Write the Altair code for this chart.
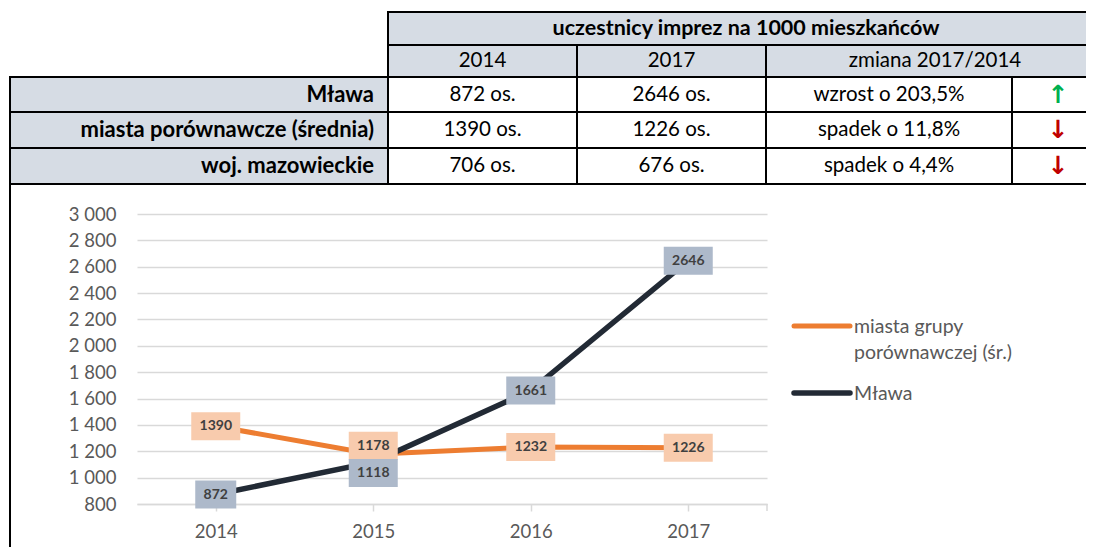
import altair as alt
import pandas as pd

# ---------------- data ----------------
years = [2014, 2015, 2016, 2017]
series_names = ["miasta grupy porównawczej (śr.)", "Mława"]
vals_miasta = [1390, 1178, 1232, 1226]
vals_mlawa = [872, 1118, 1661, 2646]

table_title = "uczestnicy imprez na 1000 mieszkańców"
table_cols = ["2014", "2017", "zmiana 2017/2014"]
row_labels = ["Mława", "miasta porównawcze (średnia)", "woj. mazowieckie"]
row_2014 = [872, 1390, 706]
row_2017 = [2646, 1226, 676]
row_change = ["wzrost o 203,5%", "spadek o 11,8%", "spadek o 4,4%"]
row_dir = ["up", "down", "down"]

y_ticks = list(range(800, 3001, 200))
legend_lines = [["miasta grupy", "porównawczej (śr.)"], ["Mława"]]

# ---------------- layout / style ----------------
W, H = 630, 290
PAD = {"left": 129, "top": 206, "right": 319, "bottom": 43}
FONT = "Lato"
GREY_FILL = "#D6DCE4"
ORANGE, DARK = "#ED7D31", "#222A35"
ORANGE_BOX, DARK_BOX = "#F8CBAD", "#ADB9CA"
AXIS_TXT = "#595959"
GRID = "#D9D9D9"

col_edges = [0, 378, 567, 756, 1002, 1094]
row_edges = [0, 33, 65, 100, 136, 172]
TX = alt.Scale(domain=[0, 1076], range=[-127, 949], nice=False, zero=False)
TY = alt.Scale(domain=[0, 172], range=[-202, -30], nice=False, zero=False)

# ---------------- table ----------------
cells = []
cells.append(dict(x=col_edges[1], x2=col_edges[5], y=row_edges[0], y2=row_edges[1], fill=GREY_FILL))
cells.append(dict(x=col_edges[1], x2=col_edges[2], y=row_edges[1], y2=row_edges[2], fill=GREY_FILL))
cells.append(dict(x=col_edges[2], x2=col_edges[3], y=row_edges[1], y2=row_edges[2], fill=GREY_FILL))
cells.append(dict(x=col_edges[3], x2=col_edges[5], y=row_edges[1], y2=row_edges[2], fill=GREY_FILL))
for i in range(len(row_labels)):
    y0, y1 = row_edges[i + 2], row_edges[i + 3]
    cells.append(dict(x=col_edges[0], x2=col_edges[1], y=y0, y2=y1, fill=GREY_FILL))
    for c in range(1, 5):
        cells.append(dict(x=col_edges[c], x2=col_edges[c + 1], y=y0, y2=y1, fill="white"))
cells_df = pd.DataFrame(cells)

def cx(a, b):
    return (col_edges[a] + col_edges[b]) / 2

def cy(r):
    return (row_edges[r] + row_edges[r + 1]) / 2

bold_center = pd.DataFrame([dict(x=cx(1, 5), y=cy(0), t=table_title)])
reg_center = [dict(x=cx(1, 2), y=cy(1), t=table_cols[0]),
              dict(x=cx(2, 3), y=cy(1), t=table_cols[1]),
              dict(x=cx(3, 5), y=cy(1), t=table_cols[2])]
bold_right = []
arrows = []
for i in range(len(row_labels)):
    r = i + 2
    bold_right.append(dict(x=col_edges[1] - 14, y=cy(r), t=row_labels[i]))
    reg_center.append(dict(x=cx(1, 2), y=cy(r), t=f"{row_2014[i]} os."))
    reg_center.append(dict(x=cx(2, 3), y=cy(r), t=f"{row_2017[i]} os."))
    reg_center.append(dict(x=cx(3, 4), y=cy(r), t=row_change[i]))
    up = row_dir[i] == "up"
    arrows.append(dict(x=cx(4, 5), y=cy(r), t="↑" if up else "↓",
                       c="#00B050" if up else "#C00000"))
reg_center = pd.DataFrame(reg_center)
bold_right = pd.DataFrame(bold_right)
arrows = pd.DataFrame(arrows)
frame_df = pd.DataFrame([dict(x=0, y=row_edges[5], y2=535)])

tx = alt.X("x:Q", scale=TX, axis=None)
ty = alt.Y("y:Q", scale=TY, axis=None)

t_cells = alt.Chart(cells_df).mark_rect(stroke="black", strokeWidth=2).encode(
    x=tx, x2="x2:Q", y=ty, y2="y2:Q", fill=alt.Fill("fill:N", scale=None))
t_frame = alt.Chart(frame_df).mark_rule(color="black", strokeWidth=2).encode(
    x=tx, y=ty, y2="y2:Q")
t_title = alt.Chart(bold_center).mark_text(font=FONT, fontSize=21.5, fontWeight="bold",
                                           color="black", baseline="middle").encode(x=tx, y=ty, text="t:N")
t_reg = alt.Chart(reg_center).mark_text(font=FONT, fontSize=20.5, color="black",
                                        baseline="middle").encode(x=tx, y=ty, text="t:N")
t_lab = alt.Chart(bold_right).mark_text(font=FONT, fontSize=22, fontWeight="bold", color="black",
                                        align="right", baseline="middle").encode(x=tx, y=ty, text="t:N")
t_arr = alt.Chart(arrows).mark_text(font="DejaVu Sans", fontSize=25, fontWeight="bold",
                                    baseline="middle").encode(
    x=tx, y=ty, text="t:N", color=alt.Color("c:N", scale=None))

table = alt.layer(t_frame, t_cells, t_title, t_reg, t_lab, t_arr)

# ---------------- line chart ----------------
rows = []
for yr, a, b in zip(years, vals_miasta, vals_mlawa):
    rows.append(dict(year=yr, value=a, series=series_names[0]))
    rows.append(dict(year=yr, value=b, series=series_names[1]))
line_df = pd.DataFrame(rows)

X = alt.X("year:O", sort=years, scale=alt.Scale(type="point", padding=0.5),
          axis=alt.Axis(title=None, labelAngle=0, domain=True, domainColor=GRID, domainWidth=1.5,
                        ticks=True, tickColor=GRID, tickWidth=1.5, tickSize=7, labelPadding=11,
                        labelFont=FONT, labelFontSize=18.5, labelColor=AXIS_TXT, grid=False))
Y = alt.Y("value:Q", scale=alt.Scale(domain=[800, 3000], nice=False, zero=False),
          axis=alt.Axis(title=None, values=y_ticks,
                        labelExpr="replace(format(datum.value, ','), ',', ' ')",
                        grid=True, gridColor=GRID, gridWidth=1.5, domain=False, ticks=False,
                        tickSize=0, labelPadding=21, labelFont=FONT, labelFontSize=18.5,
                        labelColor=AXIS_TXT))

base = alt.Chart(line_df)
WIDE = "M-1,-0.5714L1,-0.5714L1,0.5714L-1,0.5714Z"
NARROW = "M-0.8367,-0.5714L0.8367,-0.5714L0.8367,0.5714L-0.8367,0.5714Z"

layers = []
for name, col, w in [(series_names[0], ORANGE, 5), (series_names[1], DARK, 5.5)]:
    layers.append(base.transform_filter(alt.datum.series == name)
                  .mark_line(color=col, strokeWidth=w).encode(x=X, y=Y))

end_tick = alt.Chart(pd.DataFrame([{"k": 1}])).mark_rule(color=GRID, strokeWidth=1.5).encode(
    x=alt.value(W), y=alt.value(H), y2=alt.value(H + 7))
layers.append(end_tick)

for name, fill, shift in [(series_names[0], ORANGE_BOX, -8.5), (series_names[1], DARK_BOX, 11)]:
    src = base.transform_filter(alt.datum.series == name)
    for test, off in [("datum.year != 2015", 0), ("datum.year == 2015", shift)]:
        s = src.transform_filter(test)
        layers.append(s.mark_point(filled=True, size=2401, opacity=1, strokeWidth=0,
                                   color=fill, yOffset=off).encode(
            x=X, y=Y, shape=alt.condition("datum.value < 1000", alt.value(NARROW), alt.value(WIDE))))
        layers.append(s.mark_text(font=FONT, fontSize=14, fontWeight="bold", color="#404040",
                                  baseline="middle", yOffset=off).encode(
            x=X, y=Y, text=alt.Text("value:Q", format="d")))

# legend (drawn manually)
leg = alt.Chart(pd.DataFrame([{"k": 1}]))
LEG_FS = 19.5
leg_layers = [
    leg.mark_rule(color=ORANGE, strokeWidth=5, strokeCap="round").encode(
        x=alt.value(657), x2=alt.value(713), y=alt.value(112)),
    leg.mark_text(font=FONT, fontSize=LEG_FS, color=AXIS_TXT, align="left", baseline="middle").encode(
        x=alt.value(717), y=alt.value(113), text=alt.value(legend_lines[0][0])),
    leg.mark_text(font=FONT, fontSize=LEG_FS, color=AXIS_TXT, align="left", baseline="middle").encode(
        x=alt.value(717), y=alt.value(139), text=alt.value(legend_lines[0][1])),
    leg.mark_rule(color=DARK, strokeWidth=5.5, strokeCap="round").encode(
        x=alt.value(657), x2=alt.value(713), y=alt.value(179)),
    leg.mark_text(font=FONT, fontSize=LEG_FS, color=AXIS_TXT, align="left", baseline="middle").encode(
        x=alt.value(717), y=alt.value(180), text=alt.value(legend_lines[1][0])),
]

chart_part = alt.layer(*layers, *leg_layers)

chart = (alt.layer(table, chart_part)
         .resolve_scale(x="independent", y="independent")
         .properties(width=W, height=H, padding=PAD, autosize=alt.AutoSizeParams(type="none"),
                     background="white")
         .configure_view(stroke=None))

chart.save("out.html", embed_options={"renderer": "svg", "actions": False})
